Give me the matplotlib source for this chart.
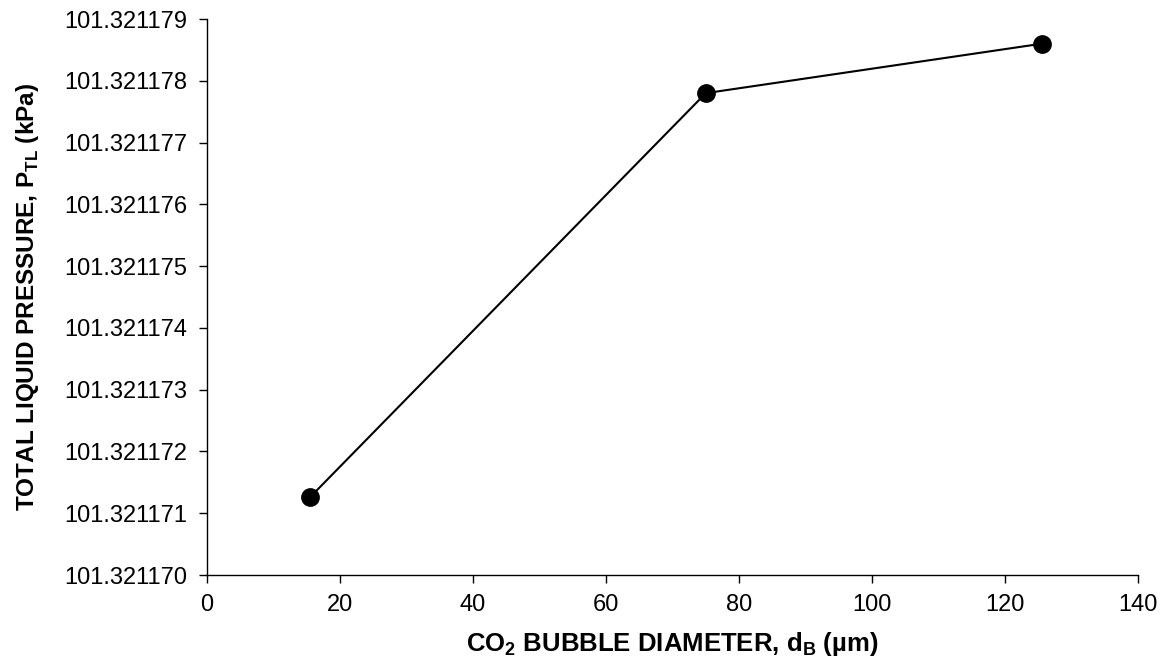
import matplotlib.pyplot as plt
from matplotlib.ticker import FormatStrFormatter, MultipleLocator

# bubble diameter (um) vs total liquid pressure (kPa)
diameter = [15.5, 75.0, 125.5]
pressure = [101.32117126, 101.3211778, 101.3211786]

x_ticks = [0, 20, 40, 60, 80, 100, 120, 140]

plt.rcParams['font.family'] = ['Liberation Sans', 'DejaVu Sans']
plt.rcParams['mathtext.fontset'] = 'custom'
plt.rcParams['mathtext.rm'] = 'Liberation Sans:bold'
plt.rcParams['mathtext.bf'] = 'Liberation Sans:bold'

fig = plt.figure(figsize=(11.71, 6.63), dpi=100)
ax = fig.add_axes([0.1768, 0.1327, 0.795, 0.8386])

ax.plot(diameter, pressure, color='black', linewidth=1.5,
        marker='o', markersize=12.5, markerfacecolor='black',
        markeredgecolor='black')

ax.set_xlim(0, 140)
ax.set_ylim(101.321170, 101.321179)
ax.set_xticks(x_ticks)
ax.yaxis.set_major_locator(MultipleLocator(0.000001))
ax.yaxis.set_major_formatter(FormatStrFormatter('%.6f'))

for side in ['top', 'right']:
    ax.spines[side].set_visible(False)
for side in ['left', 'bottom']:
    ax.spines[side].set_linewidth(1.0)

ax.tick_params(axis='both', direction='out', length=6, width=1.0,
               labelsize=17, pad=8)

ax.set_xlabel(r'CO$_{\mathbf{2}}$ BUBBLE DIAMETER, d$_{\mathbf{B}}$ (µm)',
              fontsize=18.5, fontweight='bold', labelpad=10)
ax.set_ylabel(r'TOTAL LIQUID PRESSURE, P$_{\mathbf{TL}}$ (kPa)',
              fontsize=17.5, fontweight='bold', labelpad=17)

fig.savefig('out.png', dpi=100)
